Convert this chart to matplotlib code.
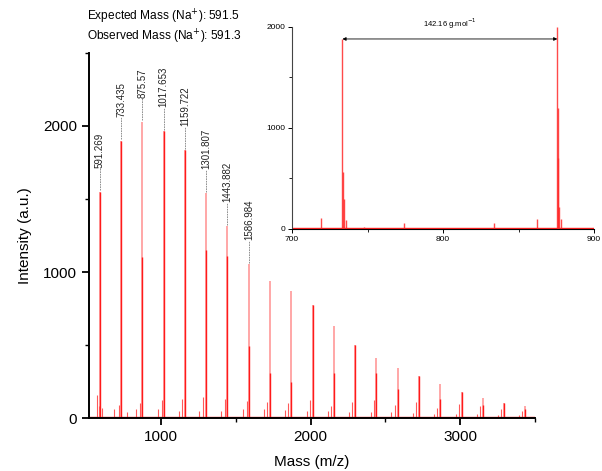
import numpy as np
import matplotlib
matplotlib.use("Agg")
import matplotlib.pyplot as plt

plt.rcParams["font.family"] = ["Liberation Sans", "DejaVu Sans"]

# main spectrum: oligomer series
peak_mz = [591.269, 733.435, 875.57, 1017.653, 1159.722, 1301.807, 1443.882, 1586.984,
           1729.1, 1871.2, 2013.3, 2155.4, 2297.5, 2439.6, 2581.7, 2723.8, 2865.9,
           3008.0, 3150.1, 3292.2, 3434.3]
peak_h = [1550, 1900, 2030, 1965, 1835, 1540, 1315, 1055, 940, 870, 775, 630, 500, 410,
          345, 290, 235, 175, 140, 100, 85]
core_h = [1550, 1900, 1100, 1965, 1835, 1150, 1110, 490, 310, 250, 775, 310, 500, 310,
          200, 290, 130, 175, 90, 100, 60]
labels = ["591.269", "733.435", "875.57", "1017.653", "1159.722", "1301.807", "1443.882", "1586.984"]

sat_mz = [571, 584, 603, 689, 718, 770, 831, 862, 978, 1004, 1120, 1140, 1257, 1282, 1400,
          1430, 1549, 1573, 1689, 1711, 1830, 1852, 1975, 1995, 2115, 2138, 2255, 2278,
          2400, 2420, 2540, 2563, 2685, 2705, 2825, 2847, 2968, 2990, 3110, 3132, 3250,
          3273, 3395, 3415]
sat_h = [160, 80, 70, 62, 92, 40, 62, 103, 60, 126, 50, 133, 50, 145, 50, 133, 60, 115, 60,
         110, 55, 100, 50, 125, 45, 85, 40, 110, 40, 120, 40, 90, 35, 110, 30, 70, 30, 95,
         25, 80, 20, 60, 20, 50]

# inset zoom 700-900
ins_mz = [719, 733.4, 734.0, 734.6, 735.5, 748, 774, 834, 862, 875.6, 875.9, 876.3, 877.0, 878.0]
ins_h = [110, 1880, 560, 300, 90, 20, 60, 60, 100, 2000, 1200, 700, 220, 100]

fig = plt.figure(figsize=(6.02, 4.71), dpi=100)
ax = fig.add_axes([0.148, 0.1125, 0.741, 0.775])

ax.axhline(8, color="#ff2020", lw=1.0, zorder=1)
ax.vlines(sat_mz, 0, sat_h, color="#ff3030", lw=0.8, alpha=0.8)
ax.vlines(peak_mz, 0, peak_h, color="#ff6060", lw=1.1, alpha=0.7)
ax.vlines(peak_mz, 0, core_h, color="#ff1a1a", lw=1.0)

for mz, h, lab in zip(peak_mz, peak_h, labels):
    ax.plot([mz, mz], [h + 10, h + 160], color="gray", lw=0.6, ls=(0, (2, 1)))
    ax.text(mz, h + 165, lab, rotation=90, ha="center", va="bottom", fontsize=7, color="#222222")

ax.set_xlim(520, 3500)
ax.set_ylim(0, 2500)
ax.set_xticks([1000, 2000, 3000])
ax.set_xticks([1500, 2500, 3500], minor=True)
ax.set_yticks([0, 1000, 2000])
ax.set_yticks([500, 1500, 2500], minor=True)
for s in ["top", "right"]:
    ax.spines[s].set_visible(False)
for s in ["left", "bottom"]:
    ax.spines[s].set_linewidth(1.4)
ax.tick_params(which="major", direction="out", length=5, width=1.3, labelsize=11)
ax.tick_params(which="minor", direction="out", length=3, width=1.0)
ax.set_xlabel("Mass (m/z)", fontsize=11, labelpad=8)
ax.set_ylabel("Intensity (a.u.)", fontsize=11, labelpad=8)

fig.text(0.145, 0.964, "Expected Mass (Na$^{+}$): 591.5", fontsize=8.6, va="center")
fig.text(0.145, 0.921, "Observed Mass (Na$^{+}$): 591.3", fontsize=8.6, va="center")

# inset
ax2 = fig.add_axes([0.485, 0.514, 0.502, 0.429])
ax2.axhline(6, color="#ff2020", lw=1.0, zorder=1)
ax2.vlines(ins_mz, 0, ins_h, color="#ff2a2a", lw=1.0, alpha=0.85)
ax2.annotate("", xy=(875.6, 1880), xytext=(733.4, 1880),
             arrowprops=dict(arrowstyle="<|-|>", color="black", lw=0.6, mutation_scale=5,
                             shrinkA=0, shrinkB=0))
ax2.text(804.5, 1960, "142.16 g.mol$^{-1}$", ha="center", va="bottom", fontsize=5.5)
ax2.set_xlim(700, 900)
ax2.set_ylim(0, 2000)
ax2.set_xticks([700, 800, 900])
ax2.set_xticks([750, 850], minor=True)
ax2.set_yticks([0, 1000, 2000])
ax2.set_yticks([500, 1500], minor=True)
for s in ["top", "right"]:
    ax2.spines[s].set_visible(False)
for s in ["left", "bottom"]:
    ax2.spines[s].set_linewidth(0.8)
ax2.spines["left"].set_color("#444444")
ax2.tick_params(which="major", direction="out", length=3, width=0.7, labelsize=6, pad=2)
ax2.tick_params(which="minor", direction="out", length=2, width=0.6)

fig.savefig("out.png", dpi=100)
